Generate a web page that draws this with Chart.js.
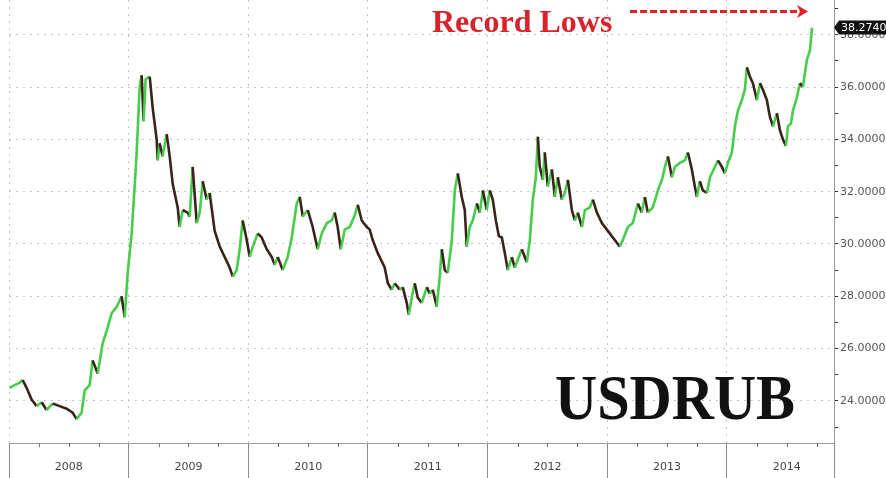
<!DOCTYPE html>
<html>
<head>
<meta charset="utf-8">
<script src="https://cdn.jsdelivr.net/npm/chart.js@4.4.1/dist/chart.umd.min.js"></script>
<style>
  body { margin: 0; background: #fff; }
  canvas { display: block; }
</style>
</head>
<body>
<canvas id="grafico" width="886" height="478"></canvas>
<script>
// datas em anos decimais e fechamentos USDRUB
const datas = [
  2008.005, 2008.047, 2008.089, 2008.114, 2008.147, 2008.189, 2008.231, 2008.273, 2008.314, 2008.365,
  2008.423, 2008.482, 2008.532, 2008.565, 2008.607, 2008.632, 2008.674, 2008.699, 2008.741, 2008.783,
  2008.824, 2008.858, 2008.900, 2008.941, 2008.967, 2008.992, 2009.025, 2009.050, 2009.067, 2009.092,
  2009.109, 2009.125, 2009.142, 2009.176, 2009.201, 2009.234, 2009.243, 2009.259, 2009.284, 2009.318,
  2009.343, 2009.368, 2009.410, 2009.426, 2009.452, 2009.493, 2009.510, 2009.535, 2009.569, 2009.594,
  2009.619, 2009.652, 2009.677, 2009.719, 2009.761, 2009.803, 2009.844, 2009.870, 2009.903, 2009.928,
  2009.953, 2009.987, 2010.012, 2010.037, 2010.079, 2010.112, 2010.154, 2010.196, 2010.221, 2010.246,
  2010.288, 2010.329, 2010.363, 2010.405, 2010.430, 2010.455, 2010.497, 2010.538, 2010.580, 2010.614,
  2010.656, 2010.697, 2010.722, 2010.747, 2010.773, 2010.806, 2010.848, 2010.890, 2010.915, 2010.948,
  2010.990, 2011.015, 2011.040, 2011.082, 2011.140, 2011.166, 2011.199, 2011.224, 2011.266, 2011.291,
  2011.324, 2011.341, 2011.366, 2011.391, 2011.416, 2011.450, 2011.492, 2011.517, 2011.542, 2011.575,
  2011.600, 2011.617, 2011.642, 2011.667, 2011.701, 2011.726, 2011.751, 2011.784, 2011.809, 2011.826,
  2011.851, 2011.876, 2011.910, 2011.935, 2011.960, 2011.993, 2012.018, 2012.043, 2012.069, 2012.094,
  2012.119, 2012.144, 2012.169, 2012.202, 2012.227, 2012.252, 2012.286, 2012.328, 2012.353, 2012.378,
  2012.403, 2012.420, 2012.436, 2012.462, 2012.478, 2012.503, 2012.537, 2012.562, 2012.587, 2012.620,
  2012.645, 2012.671, 2012.704, 2012.729, 2012.754, 2012.788, 2012.813, 2012.855, 2012.880, 2012.913,
  2012.955, 2012.997, 2013.038, 2013.080, 2013.105, 2013.130, 2013.172, 2013.214, 2013.256, 2013.289,
  2013.314, 2013.339, 2013.381, 2013.423, 2013.457, 2013.482, 2013.507, 2013.540, 2013.565, 2013.607,
  2013.649, 2013.674, 2013.707, 2013.732, 2013.749, 2013.774, 2013.799, 2013.833, 2013.858, 2013.900,
  2013.925, 2013.958, 2013.983, 2014.008, 2014.042, 2014.067, 2014.092, 2014.125, 2014.150, 2014.167,
  2014.192, 2014.217, 2014.251, 2014.276, 2014.301, 2014.334, 2014.360, 2014.385, 2014.418, 2014.443,
  2014.468, 2014.493, 2014.510, 2014.535, 2014.552, 2014.585, 2014.610, 2014.635, 2014.669, 2014.694,
  2014.711
];
const fechamentos = [
  24.5, 24.6, 24.7, 24.8, 24.5, 24.05, 23.8, 23.95, 23.65, 23.9,
  23.8, 23.7, 23.55, 23.3, 23.55, 24.4, 24.6, 25.55, 25.05, 26.2,
  26.8, 27.35, 27.6, 28.0, 27.2, 28.9, 30.4, 32.2, 33.5, 36.0,
  36.45, 34.7, 36.3, 36.4, 35.2, 34.0, 33.2, 33.85, 33.35, 34.2,
  33.35, 32.3, 31.4, 30.65, 31.3, 31.2, 31.05, 32.95, 30.8, 31.2,
  32.4, 31.7, 31.95, 30.5, 29.9, 29.5, 29.1, 28.75, 29.0, 29.8,
  30.9, 30.15, 29.5, 29.9, 30.4, 30.25, 29.8, 29.5, 29.2, 29.5,
  29.0, 29.5, 30.25, 31.55, 31.8, 31.05, 31.3, 30.65, 29.8, 30.4,
  30.8, 30.9, 31.2, 30.65, 29.8, 30.55, 30.65, 31.1, 31.5, 30.9,
  30.65, 30.55, 30.15, 29.65, 29.1, 28.5, 28.25, 28.5, 28.25, 28.35,
  27.75, 27.3, 27.95, 28.5, 27.95, 27.75, 28.35, 28.1, 28.25, 27.6,
  28.75, 29.8, 29.0, 28.9, 30.15, 32.05, 32.7, 31.8, 31.3, 29.9,
  30.65, 30.9, 31.55, 31.2, 32.05, 31.3, 32.05, 31.7, 30.9, 30.3,
  30.25, 29.65, 29.0, 29.5, 29.1, 29.4, 29.8, 29.3, 30.15, 31.7,
  32.55, 34.1, 32.95, 32.45, 33.5, 32.2, 32.85, 31.8, 32.55, 31.7,
  31.95, 32.45, 31.3, 30.9, 31.2, 30.65, 31.3, 31.4, 31.7, 31.2,
  30.8, 30.55, 30.3, 30.05, 29.9, 30.15, 30.65, 30.8, 31.55, 31.2,
  31.8, 31.2, 31.4, 32.05, 32.45, 32.95, 33.35, 32.55, 32.95, 33.1,
  33.2, 33.5, 32.85, 32.2, 31.8, 32.4, 32.05, 31.95, 32.55, 32.95,
  33.2, 32.95, 32.7, 33.1, 33.5, 34.5, 35.1, 35.5, 35.9, 36.75,
  36.4, 36.15, 35.5, 36.15, 35.9, 35.5, 34.85, 34.5, 35.0, 34.35,
  34.0, 33.75, 34.5, 34.6, 35.1, 35.6, 36.15, 36.0, 37.05, 37.4,
  38.274
];
const anos = [2008, 2009, 2010, 2011, 2012, 2013, 2014];
const ticksY = [23, 24, 25, 26, 27, 28, 29, 30, 31, 32, 33, 34, 35, 36, 37, 38, 39];

const corAlta = 'rgb(70, 205, 75)';
const corBaixa = 'rgb(58, 36, 26)';
const fimX = 2014.895;

const anotacoes = {
  id: 'anotacoes',
  afterDraw(chart) {
    const { ctx, scales: { x, y } } = chart;
    ctx.save();

    // marcas trimestrais no eixo x
    ctx.strokeStyle = '#777';
    ctx.lineWidth = 1;
    anos.forEach(a => {
      [0.25, 0.5, 0.75].forEach(q => {
        const px = Math.round(x.getPixelForValue(a + q)) + 0.5;
        if (px < x.right) {
          ctx.beginPath();
          ctx.moveTo(px, y.bottom);
          ctx.lineTo(px, y.bottom + 4);
          ctx.stroke();
        }
      });
    });

    // Record Lows
    ctx.font = 'bold 32px "Liberation Serif", "DejaVu Serif", serif';
    ctx.fillStyle = '#d9232b';
    ctx.textBaseline = 'alphabetic';
    ctx.fillText('Record Lows', 432, 32);

    // seta tracejada
    ctx.strokeStyle = '#e3232b';
    ctx.lineWidth = 3;
    ctx.setLineDash([7, 3]);
    ctx.beginPath();
    ctx.moveTo(630, 11.5);
    ctx.lineTo(798, 11.5);
    ctx.stroke();
    ctx.setLineDash([]);
    ctx.fillStyle = '#e3232b';
    ctx.beginPath();
    ctx.moveTo(797, 5);
    ctx.lineTo(808, 11.5);
    ctx.lineTo(797, 18);
    ctx.lineTo(800, 11.5);
    ctx.closePath();
    ctx.fill();

    // USDRUB
    ctx.font = 'bold 64px "Liberation Serif", "DejaVu Serif", serif';
    ctx.fillStyle = '#111';
    const larg = ctx.measureText('USDRUB').width;
    ctx.save();
    ctx.translate(555, 419);
    ctx.scale(240 / larg, 1);
    ctx.fillText('USDRUB', 0, 0);
    ctx.restore();

    // etiqueta do último preço
    const ultimo = fechamentos[fechamentos.length - 1];
    const py = y.getPixelForValue(ultimo);
    ctx.fillStyle = '#111';
    ctx.beginPath();
    ctx.moveTo(834, py);
    ctx.lineTo(839, py - 7);
    ctx.lineTo(886, py - 7);
    ctx.lineTo(886, py + 7);
    ctx.lineTo(839, py + 7);
    ctx.closePath();
    ctx.fill();
    ctx.font = '11px "DejaVu Sans", sans-serif';
    ctx.fillStyle = '#fff';
    ctx.textBaseline = 'middle';
    ctx.fillText(ultimo.toFixed(4), 841, py + 0.5);

    ctx.restore();
  }
};

const ctx = document.getElementById('grafico');
new Chart(ctx.getContext('2d'), {
  type: 'line',
  data: {
    datasets: [{
      data: datas.map((d, i) => ({ x: d, y: fechamentos[i] })),
      borderWidth: 2.6,
      pointRadius: 0,
      tension: 0,
      borderColor: corAlta,
      segment: {
        borderColor: c => c.p1.parsed.y >= c.p0.parsed.y ? corAlta : corBaixa
      }
    }]
  },
  options: {
    responsive: false,
    animation: false,
    devicePixelRatio: 1,
    layout: { padding: { left: 9, top: 0, right: 0, bottom: 0 } },
    plugins: {
      legend: { display: false },
      tooltip: { enabled: false }
    },
    scales: {
      x: {
        type: 'linear',
        position: 'bottom',
        min: 2008,
        max: fimX,
        afterBuildTicks: s => {
          const t = [];
          anos.forEach(a => { t.push({ value: a }); t.push({ value: a + 0.5 }); });
          t.push({ value: fimX });
          s.ticks = t;
        },
        afterFit: s => {
          s.height = 35;
          s.paddingLeft = 0;
          s.paddingRight = 0;
        },
        grid: {
          color: c => (c.tick && Number.isInteger(c.tick.value)) ? '#c4c4c4' : 'rgba(0,0,0,0)',
          tickColor: c => (c.tick && c.tick.value % 1 !== 0.5) ? '#8a8a8a' : 'rgba(0,0,0,0)',
          tickLength: 35,
          tickBorderDash: [],
          lineWidth: 1
        },
        border: { display: true, color: '#9a9a9a', dash: [2, 5] },
        ticks: {
          autoSkip: false,
          maxRotation: 0,
          padding: -17,
          color: '#444',
          font: { family: 'DejaVu Sans', size: 11 },
          callback: v => (v % 1 === 0.5) ? String(Math.floor(v)) : ''
        }
      },
      y: {
        type: 'linear',
        position: 'right',
        min: 22.39,
        max: 39.33,
        afterBuildTicks: s => { s.ticks = ticksY.map(v => ({ value: v })); },
        afterFit: s => {
          s.width = 52;
          s.paddingTop = 0;
          s.paddingBottom = 0;
        },
        grid: {
          color: c => (c.tick && c.tick.value % 2 === 0) ? '#c4c4c4' : 'rgba(0,0,0,0)',
          tickColor: '#333',
          tickLength: 4,
          tickBorderDash: []
        },
        border: { display: true, color: '#9a9a9a', dash: [2, 5] },
        ticks: {
          padding: 2,
          color: '#555',
          font: { family: 'DejaVu Sans', size: 11 },
          callback: v => (v % 2 === 0) ? v.toFixed(4) : ''
        }
      }
    }
  },
  plugins: [anotacoes]
});
</script>
</body>
</html>
